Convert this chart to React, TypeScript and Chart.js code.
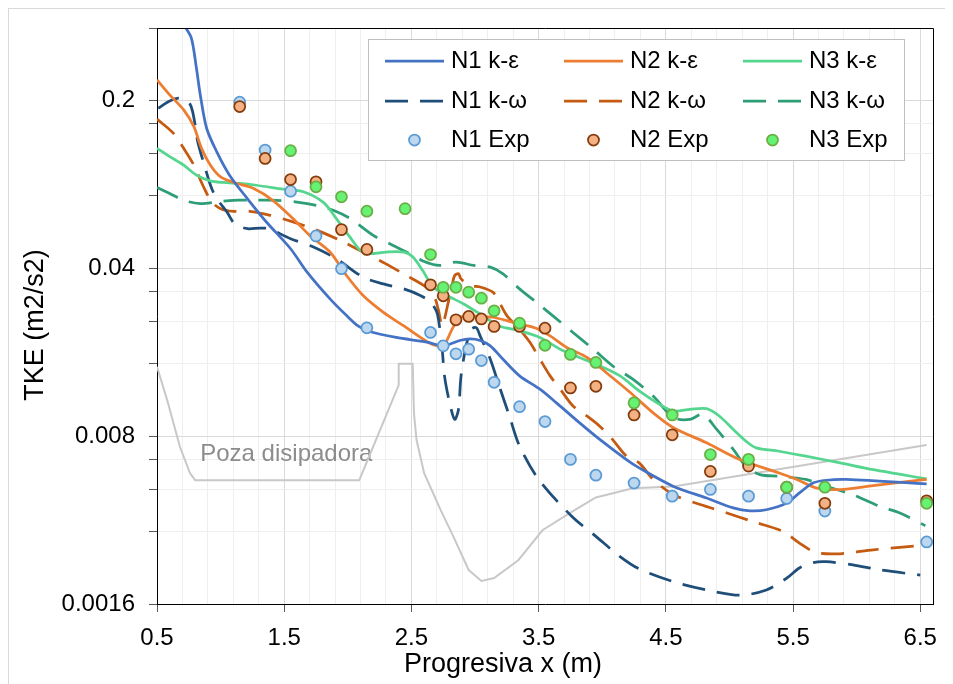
import React, { useEffect, useRef } from "react";
import { Chart, registerables } from "chart.js";
Chart.register(...registerables);

const FONT = '"Liberation Sans", Arial, Helvetica, sans-serif';

// ---- axis ticks ----
const xTickValues = [0.5, 0.7, 0.9, 1.1, 1.3, 1.5, 1.7, 1.9, 2.1, 2.3, 2.5, 2.7, 2.9, 3.1, 3.3, 3.5, 3.7, 3.9, 4.1, 4.3, 4.5, 4.7, 4.9, 5.1, 5.3, 5.5, 5.7, 5.9, 6.1, 6.3, 6.5];
const xTickLabels = ["0.5", "1.5", "2.5", "3.5", "4.5", "5.5", "6.5"];
const yTickValues = [0.0016, 0.0032, 0.0048, 0.0064, 0.008, 0.016, 0.024, 0.032, 0.04, 0.08, 0.12, 0.16, 0.2, 0.4];
const yTickLabels = ["0.0016", "0.008", "0.04", "0.2"];

// ---- N1 k-epsilon ----
const n1KeX = [0.71, 0.77, 0.81, 0.84, 0.89, 0.97, 1.07, 1.21, 1.36, 1.55, 1.68, 1.86, 1.99, 2.08, 2.17, 2.38, 2.62, 2.74, 2.80, 2.88, 2.96, 3.04, 3.12, 3.22, 3.35, 3.51, 3.64, 3.82, 3.98, 4.19, 4.29, 4.56, 4.82, 5.03, 5.16, 5.29, 5.45, 5.55, 5.66, 5.76, 5.92, 6.55];
const n1KeY = [0.413, 0.363, 0.272, 0.211, 0.153, 0.122, 0.0976, 0.078, 0.0623, 0.0482, 0.0385, 0.0298, 0.0254, 0.0230, 0.0218, 0.0206, 0.0197, 0.0190, 0.0193, 0.0200, 0.0203, 0.0200, 0.0190, 0.0167, 0.01425, 0.01254, 0.0110, 0.0091, 0.00775, 0.00639, 0.0059, 0.00494, 0.00442, 0.00402, 0.00391, 0.00395, 0.00421, 0.00464, 0.00511, 0.00524, 0.00528, 0.00506];

// ---- N2 k-epsilon ----
const n2KeX = [0.50, 0.60, 0.71, 0.79, 0.85, 0.92, 1.00, 1.13, 1.26, 1.41, 1.57, 1.70, 1.86, 1.99, 2.12, 2.28, 2.44, 2.59, 2.67, 2.75, 2.82, 2.87, 2.93, 3.04, 3.14, 3.25, 3.35, 3.48, 3.59, 3.72, 3.88, 4.03, 4.22, 4.40, 4.56, 4.82, 5.08, 5.39, 5.53, 5.68, 5.87, 6.13, 6.55];
const n2KeY = [0.2433, 0.2107, 0.1824, 0.1554, 0.1262, 0.1074, 0.0961, 0.0901, 0.0859, 0.0767, 0.0643, 0.0548, 0.0467, 0.0373, 0.0308, 0.0262, 0.0230, 0.0203, 0.0192, 0.0190, 0.0223, 0.0246, 0.0254, 0.0252, 0.0250, 0.0242, 0.0234, 0.0225, 0.0209, 0.0187, 0.0170, 0.01472, 0.01215, 0.0100, 0.00867, 0.0075, 0.00639, 0.00562, 0.00528, 0.00487, 0.00479, 0.00498, 0.00528];

// ---- N3 k-epsilon ----
const n3KeX = [0.50, 0.60, 0.71, 0.81, 0.92, 1.02, 1.15, 1.28, 1.49, 1.65, 1.81, 1.91, 2.02, 2.10, 2.17, 2.30, 2.44, 2.51, 2.59, 2.67, 2.78, 2.91, 3.04, 3.19, 3.35, 3.51, 3.67, 3.82, 3.98, 4.14, 4.29, 4.45, 4.56, 4.69, 4.82, 4.92, 5.03, 5.13, 5.21, 5.39, 5.60, 5.87, 6.13, 6.55];
const n3KeY = [0.1262, 0.1165, 0.1074, 0.0976, 0.0924, 0.0910, 0.0901, 0.0886, 0.0854, 0.0832, 0.0750, 0.0643, 0.0536, 0.0474, 0.0460, 0.0467, 0.0467, 0.0446, 0.0390, 0.0334, 0.0308, 0.0284, 0.0258, 0.0230, 0.0220, 0.0206, 0.0184, 0.0170, 0.0157, 0.01425, 0.01234, 0.01085, 0.01017, 0.01034, 0.01041, 0.0097, 0.00853, 0.00762, 0.00715, 0.00692, 0.0066, 0.00619, 0.0058, 0.00531];

// ---- N1 k-omega ----
const n1KwX = [0.51, 0.60, 0.68, 0.76, 0.80, 0.82, 0.88, 0.93, 0.98, 1.05, 1.11, 1.21, 1.31, 1.39, 1.44, 1.55, 1.73, 1.91, 2.12, 2.28, 2.44, 2.57, 2.65, 2.70, 2.72, 2.74, 2.76, 2.80, 2.84, 2.87, 2.89, 2.93, 2.97, 3.01, 3.04, 3.12, 3.19, 3.27, 3.35, 3.50, 3.76, 3.95, 4.14, 4.29, 4.56, 4.82, 5.08, 5.29, 5.45, 5.55, 5.66, 5.76, 5.97, 6.18, 6.50];
const n1KwY = [0.1854, 0.1988, 0.2040, 0.1926, 0.1578, 0.1346, 0.1041, 0.0859, 0.0767, 0.0686, 0.0613, 0.0584, 0.0588, 0.0584, 0.0566, 0.0531, 0.0490, 0.0438, 0.0367, 0.0344, 0.0328, 0.0308, 0.0289, 0.0262, 0.0230, 0.0190, 0.01425, 0.01103, 0.00939, 0.01034, 0.01425, 0.0190, 0.0223, 0.0226, 0.0209, 0.01673, 0.01294, 0.0097, 0.00727, 0.00528, 0.00371, 0.00306, 0.00252, 0.00224, 0.00198, 0.00183, 0.00174, 0.00183, 0.00205, 0.00226, 0.00238, 0.0024, 0.00233, 0.00222, 0.00211];

// ---- N2 k-omega ----
const n2KwX = [0.50, 0.63, 0.71, 0.79, 0.86, 0.93, 1.00, 1.10, 1.23, 1.39, 1.55, 1.76, 1.94, 2.12, 2.30, 2.46, 2.59, 2.67, 2.71, 2.74, 2.76, 2.79, 2.82, 2.84, 2.87, 2.89, 2.96, 3.04, 3.14, 3.19, 3.25, 3.35, 3.43, 3.51, 3.59, 3.67, 3.77, 3.88, 3.98, 4.08, 4.19, 4.29, 4.40, 4.56, 4.77, 4.98, 5.18, 5.42, 5.55, 5.68, 5.87, 6.13, 6.55];
const n2KwY = [0.1670, 0.1457, 0.1262, 0.1074, 0.0886, 0.0755, 0.0708, 0.0690, 0.0690, 0.0664, 0.0628, 0.0575, 0.0522, 0.0467, 0.0417, 0.0373, 0.0341, 0.0313, 0.0271, 0.0230, 0.0246, 0.0289, 0.0339, 0.0373, 0.0379, 0.0361, 0.0339, 0.0334, 0.0318, 0.0289, 0.0254, 0.0223, 0.0197, 0.01673, 0.01425, 0.01254, 0.01068, 0.0097, 0.0088, 0.00775, 0.0066, 0.00619, 0.00528, 0.00456, 0.00415, 0.00383, 0.00353, 0.00321, 0.00287, 0.00262, 0.00259, 0.00269, 0.00282];

// ---- N3 k-omega ----
const n3KwX = [0.50, 0.60, 0.71, 0.84, 0.97, 1.10, 1.23, 1.44, 1.60, 1.76, 1.89, 2.02, 2.20, 2.33, 2.46, 2.59, 2.72, 2.85, 2.99, 3.12, 3.22, 3.35, 3.48, 3.61, 3.77, 3.93, 4.08, 4.24, 4.40, 4.56, 4.69, 4.79, 4.90, 5.03, 5.13, 5.24, 5.39, 5.60, 5.76, 5.97, 6.18, 6.34, 6.54];
const n3KwY = [0.0867, 0.0818, 0.0767, 0.0743, 0.0755, 0.0767, 0.0767, 0.0767, 0.0754, 0.0729, 0.0695, 0.0643, 0.0548, 0.0506, 0.0467, 0.0429, 0.0411, 0.0424, 0.0411, 0.0404, 0.0379, 0.0328, 0.0289, 0.0254, 0.0216, 0.0184, 0.0157, 0.0138, 0.01175, 0.00955, 0.00939, 0.00986, 0.00853, 0.00704, 0.00599, 0.00553, 0.00544, 0.00528, 0.00494, 0.00456, 0.00408, 0.00383, 0.00339];

// ---- experimental points ----
const expX12 = [1.15, 1.35, 1.55, 1.75, 1.95, 2.15, 2.65, 2.75, 2.85, 2.95, 3.05, 3.15, 3.35, 3.55, 3.75, 3.95, 4.25, 4.55, 4.85, 5.15, 5.45, 5.75, 6.55];
const n1ExpY = [0.1965, 0.1241, 0.0837, 0.0545, 0.0398, 0.0226, 0.0216, 0.0190, 0.0176, 0.0184, 0.0165, 0.0134, 0.0106, 0.0092, 0.0064, 0.0055, 0.0051, 0.0045, 0.0048, 0.0045, 0.0044, 0.0039, 0.0029];
const n2ExpY = [0.1884, 0.1146, 0.0936, 0.0916, 0.0579, 0.0479, 0.0341, 0.0307, 0.0244, 0.0252, 0.0246, 0.0229, 0.0229, 0.0225, 0.0127, 0.0129, 0.0098, 0.0081, 0.0057, 0.0060, 0.0049, 0.0042, 0.0043];
const n3ExpX = [1.55, 1.75, 1.95, 2.15, 2.45, 2.65, 2.75, 2.85, 2.95, 3.05, 3.15, 3.35, 3.55, 3.75, 3.95, 4.25, 4.55, 4.85, 5.15, 5.45, 5.75, 6.55];
const n3ExpY = [0.1234, 0.0873, 0.0793, 0.0691, 0.0708, 0.0456, 0.0333, 0.0333, 0.0318, 0.0300, 0.0266, 0.0236, 0.0191, 0.0175, 0.0162, 0.0110, 0.0098, 0.0067, 0.0064, 0.0049, 0.0049, 0.0042];

// ---- stilling basin profile (secondary, hidden linear axis) ----
const profX = [0.50, 0.58, 0.68, 0.76, 0.80, 2.09, 2.40, 2.40, 2.51, 2.52, 2.54, 2.60, 2.73, 2.83, 2.95, 3.05, 3.15, 3.34, 3.53, 3.76, 3.95, 4.24, 4.56, 6.55];
const profY = [0.412, 0.354, 0.273, 0.227, 0.215, 0.215, 0.380, 0.417, 0.417, 0.331, 0.285, 0.227, 0.163, 0.117, 0.059, 0.040, 0.045, 0.076, 0.128, 0.160, 0.185, 0.201, 0.204, 0.276];

const zip = (xs: number[], ys: number[]) => xs.map((x, i) => ({ x, y: ys[i] }));

const DASH = [23, 12];

function lineDs(label: string, xs: number[], ys: number[], color: string, dashed: boolean) {
  return {
    label,
    data: zip(xs, ys),
    borderColor: color,
    backgroundColor: color,
    borderWidth: 2.75,
    borderDash: dashed ? DASH : [],
    borderCapStyle: "butt",
    pointRadius: 0,
    tension: 0.3,
    fill: false,
    order: 10,
  };
}
function expDs(label: string, xs: number[], ys: number[], fillC: string, borderC: string, order: number) {
  return {
    label,
    data: zip(xs, ys),
    showLine: false,
    pointRadius: 5.5,
    pointBorderWidth: 1.75,
    pointBackgroundColor: fillC,
    pointBorderColor: borderC,
    borderColor: borderC,
    backgroundColor: fillC,
    order,
  };
}

const isMajorX = (v: number) => xTickLabels.includes(String(v));
const isMajorY = (v: number) => yTickLabels.includes(String(v));

const legendPlugin = {
  id: "gridLegend",
  afterDraw(chart: any, _args: any, o: any) {
    const ctx = chart.ctx;
    ctx.save();
    ctx.fillStyle = "#fff";
    ctx.fillRect(o.left, o.top, o.width, o.height);
    ctx.strokeStyle = "#bfbfbf";
    ctx.lineWidth = 1;
    ctx.strokeRect(o.left + 0.5, o.top + 0.5, o.width, o.height);
    chart.data.datasets.slice(0, 9).forEach((ds: any, i: number) => {
      const r = Math.floor(i / 3);
      const c = i % 3;
      const x0 = o.colX[c];
      const y = o.rowY[r];
      if (ds.showLine === false) {
        ctx.beginPath();
        ctx.arc(x0 + o.sample / 2, y, ds.pointRadius, 0, Math.PI * 2);
        ctx.fillStyle = ds.pointBackgroundColor;
        ctx.fill();
        ctx.lineWidth = ds.pointBorderWidth;
        ctx.strokeStyle = ds.pointBorderColor;
        ctx.stroke();
      } else {
        ctx.beginPath();
        ctx.setLineDash(ds.borderDash || []);
        ctx.lineCap = "butt";
        ctx.lineWidth = ds.borderWidth;
        ctx.strokeStyle = ds.borderColor;
        ctx.moveTo(x0, y);
        ctx.lineTo(x0 + o.sample, y);
        ctx.stroke();
        ctx.setLineDash([]);
      }
      ctx.fillStyle = "#000";
      ctx.font = o.font;
      ctx.textAlign = "left";
      ctx.textBaseline = "middle";
      ctx.fillText(ds.label, x0 + o.textGap, y);
    });
    ctx.restore();
  },
};

const framePlugin = {
  id: "frameAndTitles",
  beforeDatasetsDraw(chart: any, _a: any, o: any) {
    const ctx = chart.ctx;
    const xs = chart.scales.x;
    const y2 = chart.scales.y2;
    ctx.save();
    ctx.font = o.noteFont;
    ctx.fillStyle = "#8c8c8c";
    ctx.textAlign = "left";
    ctx.textBaseline = "alphabetic";
    ctx.fillText(o.noteText, xs.getPixelForValue(o.noteX), y2.getPixelForValue(o.noteY));
    ctx.restore();
  },
  afterDatasetsDraw(chart: any) {
    const { ctx, chartArea } = chart;
    ctx.save();
    ctx.strokeStyle = "#000";
    ctx.lineWidth = 1;
    ctx.beginPath();
    const t = Math.round(chartArea.top) + 0.5;
    const r = Math.round(chartArea.right) + 0.5;
    ctx.moveTo(Math.round(chartArea.left), t);
    ctx.lineTo(r, t);
    ctx.lineTo(r, Math.round(chartArea.bottom));
    ctx.stroke();
    ctx.restore();
  },
  afterDraw(chart: any, _a: any, o: any) {
    const ctx = chart.ctx;
    ctx.save();
    ctx.font = o.titleFont;
    ctx.fillStyle = "#000";
    ctx.textAlign = "center";
    ctx.textBaseline = "alphabetic";
    ctx.fillText(o.xTitle, o.xTitlePos[0], o.xTitlePos[1]);
    ctx.translate(o.yTitlePos[0], o.yTitlePos[1]);
    ctx.rotate(-Math.PI / 2);
    ctx.fillText(o.yTitle, 0, 0);
    ctx.restore();
  },
};

export default function App() {
  const ref = useRef<HTMLCanvasElement | null>(null);
  useEffect(() => {
    if (!ref.current) return;
    const datasets: any[] = [
      lineDs("N1 k-ε", n1KeX, n1KeY, "#4472C4", false),
      lineDs("N2 k-ε", n2KeX, n2KeY, "#ED7D31", false),
      lineDs("N3 k-ε", n3KeX, n3KeY, "#55D68F", false),
      lineDs("N1 k-ω", n1KwX, n1KwY, "#1F4E79", true),
      lineDs("N2 k-ω", n2KwX, n2KwY, "#C55A11", true),
      lineDs("N3 k-ω", n3KwX, n3KwY, "#2E9E76", true),
      expDs("N1 Exp", expX12, n1ExpY, "#BDD7EE", "#5B9BD5", 3),
      expDs("N2 Exp", expX12, n2ExpY, "#F4B183", "#843C0C", 2),
      expDs("N3 Exp", n3ExpX, n3ExpY, "#66F273", "#6AAE45", 1),
      {
        label: "Poza disipadora",
        data: zip(profX, profY),
        yAxisID: "y2",
        borderColor: "#C8C8C8",
        borderWidth: 2,
        pointRadius: 0,
        tension: 0,
        fill: false,
        order: 100,
      },
    ];
    const chart = new Chart(ref.current, {
      type: "line",
      data: { datasets },
      plugins: [legendPlugin, framePlugin],
      options: {
        animation: false,
        responsive: false,
        maintainAspectRatio: false,
        events: [],
        layout: { padding: { left: 0, top: 19, right: 12, bottom: 0 } },
        plugins: {
          legend: { display: false },
          tooltip: { enabled: false },
          gridLegend: {
            left: 359, top: 30, width: 536, height: 121,
            colX: [376, 555, 734], rowY: [52, 92, 131],
            sample: 59, textGap: 66, font: `24px ${FONT}`,
          },
          frameAndTitles: {
            titleFont: `27px ${FONT}`,
            xTitle: "Progresiva x (m)", xTitlePos: [494, 663],
            yTitle: "TKE (m2/s2)", yTitlePos: [34, 316],
            noteText: "Poza disipadora", noteFont: `24px ${FONT}`, noteX: 0.84, noteY: 0.248,
          },
        } as any,
        scales: {
          x: {
            type: "linear",
            min: 0.5,
            max: 6.6,
            afterBuildTicks: (s: any) => { s.ticks = xTickValues.map((v) => ({ value: v })); },
            afterFit: (s: any) => { s.height = 79; s.paddingLeft = 0; s.paddingRight = 0; },
            ticks: {
              autoSkip: false, maxRotation: 0, minRotation: 0, padding: 12, color: "#000",
              font: { family: FONT, size: 24 },
              callback: (v: any) => (isMajorX(v) ? String(v) : ""),
            },
            grid: {
              color: (c: any) => (c.tick && isMajorX(c.tick.value) ? "#d9d9d9" : "#efefef"),
              lineWidth: 1,
              tickLength: 8,
              tickColor: (c: any) => (c.tick && isMajorX(c.tick.value) ? "#595959" : "rgba(0,0,0,0)"),
            },
            border: { color: "#000", width: 1 },
          },
          y: {
            type: "logarithmic",
            position: "left",
            min: 0.0016,
            max: 0.4,
            afterBuildTicks: (s: any) => { s.ticks = yTickValues.map((v) => ({ value: v })); },
            afterFit: (s: any) => { s.width = 148; s.paddingTop = 0; s.paddingBottom = 0; },
            ticks: {
              autoSkip: false, padding: 14, color: "#000",
              font: { family: FONT, size: 24 },
              callback: (v: any) => (isMajorY(v) ? String(v) : ""),
            },
            grid: {
              color: (c: any) => (c.tick && isMajorY(c.tick.value) ? "#d9d9d9" : "#efefef"),
              lineWidth: 1,
              tickLength: 8,
              tickColor: "#595959",
            },
            border: { color: "#000", width: 1 },
          },
          y2: { type: "linear", display: false, min: 0, max: 1 },
        },
      } as any,
    });
    return () => chart.destroy();
  }, []);
  return (
    <div style={{ width: 938, height: 680, border: "1px solid #d9d9d9", boxSizing: "border-box", position: "relative", background: "#fff" }}>
      <canvas ref={ref} width={936} height={674} style={{ display: "block", width: 936, height: 674 }} />
    </div>
  );
}
